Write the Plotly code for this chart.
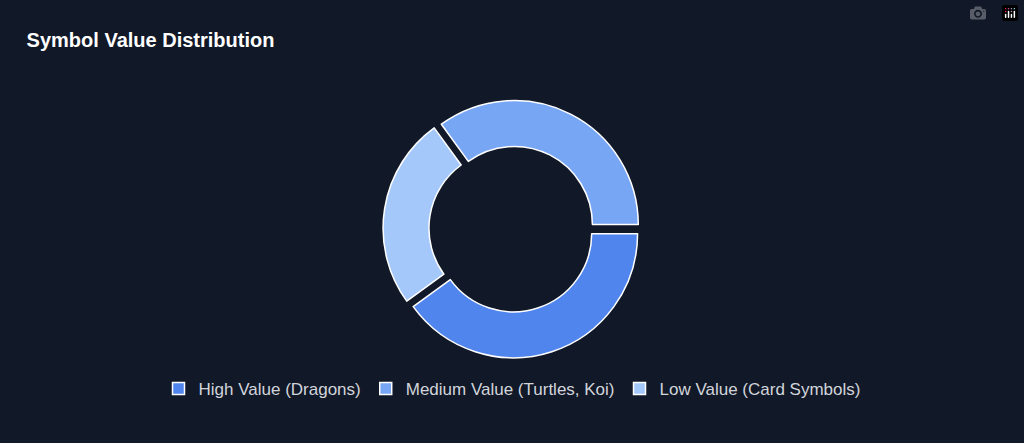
import plotly.graph_objects as go

labels = ["High Value (Dragons)", "Medium Value (Turtles, Koi)", "Low Value (Card Symbols)"]
values = [40, 35, 25]
colors = ["#5085ee", "#77a6f5", "#a5c8fb"]

fig = go.Figure(go.Pie(
    labels=labels, values=values, hole=0.63, sort=False,
    direction="counterclockwise", rotation=90,
    pull=[0.04, 0.04, 0.04],
    marker=dict(colors=colors, line=dict(color="#ffffff", width=1.5)),
    textinfo="none", hoverinfo="label+value",
    domain=dict(x=[0, 1], y=[0, 1]),
))

fig.update_layout(
    autosize=True,
    paper_bgcolor="#111827", plot_bgcolor="#111827",
    title=dict(text="<b>Symbol Value Distribution</b>", x=0.026, xanchor="left",
               y=0.91, yanchor="middle",
               font=dict(family="Liberation Sans, Arial, sans-serif", size=20, color="#ffffff")),
    legend=dict(orientation="h", x=0.5, xanchor="center", y=-0.12, yanchor="middle",
                font=dict(family="Liberation Sans, Arial, sans-serif", size=17, color="#d1d5db"),
                itemwidth=30),
    margin=dict(l=20, r=20, t=100, b=85),
)

fig.write_html("out.html", default_width="100%", default_height="100%",
               config={"responsive": True})
with open("out.html") as f:
    html = f.read()
html = html.replace("<head>", "<head><style>html,body{margin:0;padding:0;height:100%;background:#111827;overflow:hidden}</style>", 1)
with open("out.html", "w") as f:
    f.write(html)
